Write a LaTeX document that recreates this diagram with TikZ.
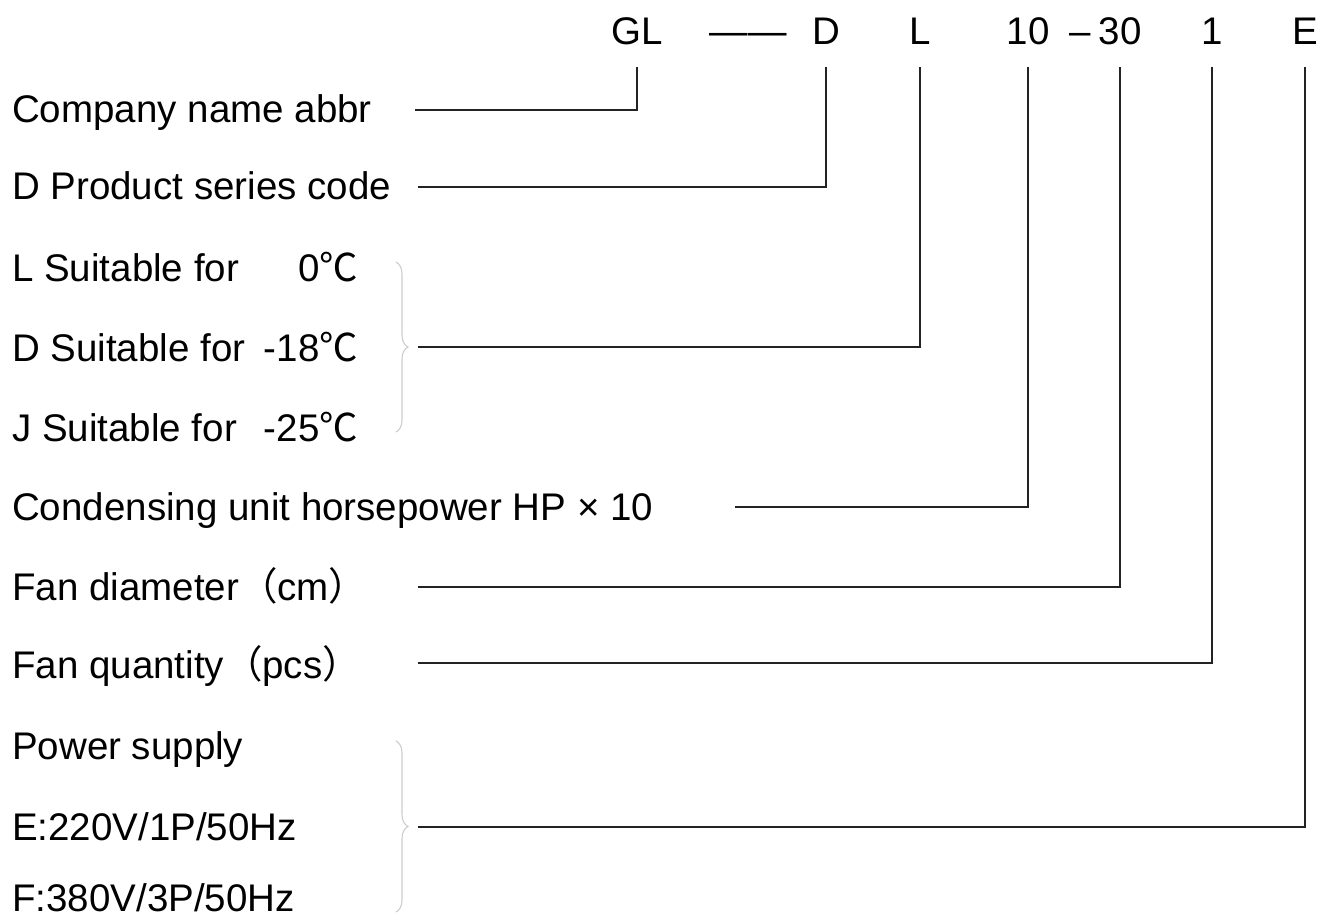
\documentclass[tikz,border=0pt]{standalone}
\usepackage{fontspec}
\setmainfont{Liberation Sans}
\newfontfamily\cjk{Noto Sans CJK SC}
\usetikzlibrary{decorations.pathreplacing}
\definecolor{linkgray}{RGB}{35,35,35}
\definecolor{bracegray}{RGB}{205,205,205}
\tikzset{
  rowtext/.style={
    anchor=base west,
    inner sep=0pt,
    font=\fontsize{38.5}{46}\selectfont
  },
  codetext/.style={
    anchor=base,
    inner sep=0pt,
    outer ysep=22pt,
    font=\fontsize{38.5}{46}\selectfont
  },
  link/.style={line width=1.6pt,linkgray,line join=miter},
  grpbrace/.style={decorate,decoration={brace,amplitude=12pt},line width=1.1pt,bracegray}
}
\newcommand{\degc}{{\cjk ℃}}
\newcommand{\temprow}[2]{\makebox[346pt][l]{#1\hfill #2\degc}}

\begin{document}
\begin{tikzpicture}[x=1pt,y=-1pt]
  \useasboundingbox (0,0) rectangle (1335,920);
  % model code
  \node[codetext] (gl) at (637,45) {GL};
  \node[codetext] (dash1) at (748,45) {——};
  \node[codetext] (d) at (826,45) {D};
  \node[codetext] (l) at (920,45) {L};
  \node[codetext] (hp) at (1028,45) {10};
  \node[codetext] (dash2) at (1080,45) {–};
  \node[codetext] (dia) at (1120,45) {30};
  \node[codetext] (qty) at (1212,45) {1};
  \node[codetext] (pw) at (1305,45) {E};
  % descriptions
  \node[rowtext] (company) at (12,123) {Company name abbr};
  \node[rowtext] (series) at (12,200) {D Product series code};
  \node[rowtext] (tl) at (12,281) {\temprow{L Suitable for}{0}};
  \node[rowtext] (td) at (12,361) {\temprow{D Suitable for}{-18}};
  \node[rowtext] (tj) at (12,441) {\temprow{J Suitable for}{-25}};
  \node[rowtext] (power) at (12,520) {Condensing unit horsepower HP × 10};
  \node[rowtext] (fandia) at (12,600) {Fan diameter{\cjk （}cm{\cjk ）}};
  \node[rowtext] (fanqty) at (12,678) {Fan quantity{\cjk （}pcs{\cjk ）}};
  \node[rowtext] (supply) at (12,759) {Power supply};
  \node[rowtext] (se) at (12,840) {E:220V/1P/50Hz};
  \node[rowtext] (sf) at (12,911) {F:380V/3P/50Hz};
  % line starts
  \coordinate (c-company) at (415,110);
  \coordinate (c-series) at (418,187);
  \coordinate (c-temp) at (418,347);
  \coordinate (c-power) at (735,507);
  \coordinate (c-fandia) at (418,587);
  \coordinate (c-fanqty) at (418,663);
  \coordinate (c-supply) at (418,827);
  % braces
  \draw[grpbrace] (396,262) -- (396,432);
  \draw[grpbrace] (396,741) -- (396,912);
  % connectors
  \draw[link] (gl.south) |- (c-company);
  \draw[link] (d.south) |- (c-series);
  \draw[link] (l.south) |- (c-temp);
  \draw[link] (hp.south) |- (c-power);
  \draw[link] (dia.south) |- (c-fandia);
  \draw[link] (qty.south) |- (c-fanqty);
  \draw[link] (pw.south) |- (c-supply);
\end{tikzpicture}
\end{document}
